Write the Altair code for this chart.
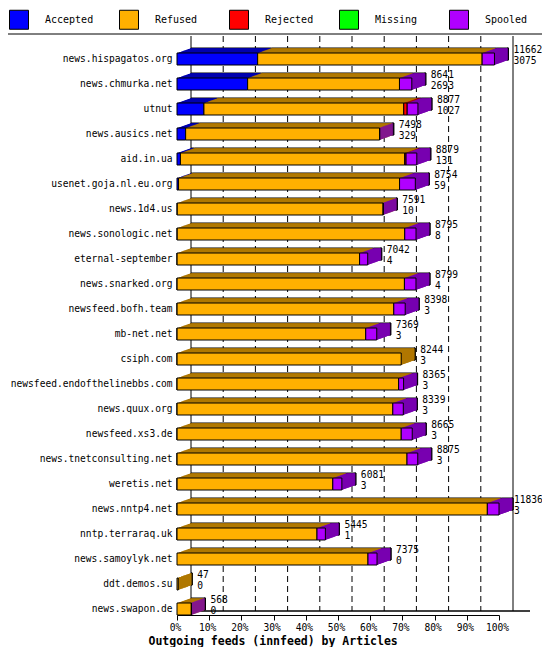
import altair as alt
import pandas as pd

hosts = ["news.hispagatos.org", "news.chmurka.net", "utnut", "news.ausics.net", "aid.in.ua",
         "usenet.goja.nl.eu.org", "news.1d4.us", "news.sonologic.net", "eternal-september",
         "news.snarked.org", "newsfeed.bofh.team", "mb-net.net", "csiph.com",
         "newsfeed.endofthelinebbs.com", "news.quux.org", "newsfeed.xs3.de",
         "news.tnetconsulting.net", "weretis.net", "news.nntp4.net", "nntp.terraraq.uk",
         "news.samoylyk.net", "ddt.demos.su", "news.swapon.de"]
offered = [11662, 8641, 8877, 7498, 8879, 8754, 7591, 8795, 7042, 8799, 8398, 7369, 8244,
           8365, 8339, 8665, 8875, 6081, 11836, 5445, 7375, 47, 568]
accepted = [3075, 2693, 1027, 329, 131, 59, 10, 8, 4, 4, 3, 3, 3, 3, 3, 3, 3, 3, 3, 1, 0, 0, 0]
refused = [8560, 5790, 7620, 7395, 8553, 8428, 7850, 8676, 6958, 8668, 8263, 7193, 8546,
           8447, 8226, 8546, 8767, 5938, 11830, 5337, 7282, 47, 546]
rejected = [0, 0, 130, 0, 50, 0, 0, 0, 0, 0, 0, 0, 0, 0, 0, 0, 0, 0, 0, 0, 0, 0, 0]
missing = [0, 0, 0, 0, 0, 0, 0, 0, 0, 0, 0, 0, 0, 0, 0, 0, 0, 0, 0, 0, 0, 0, 0]
spooled = [470, 470, 410, 5, 410, 600, 5, 430, 310, 440, 435, 420, 0, 190, 400, 420, 410,
           345, 445, 320, 345, 0, 5]

statuses = ["Accepted", "Refused", "Rejected", "Missing", "Spooled"]
front_colors = ["#0000ff", "#ffb000", "#ff0000", "#00ff00", "#b000ff"]
dark_colors = ["#0000b0", "#b07800", "#b00000", "#00b000", "#7800b0"]
x_ticks = [0, 10, 20, 30, 40, 50, 60, 70, 80, 90, 100]
TITLE = "Outgoing feeds (innfeed) by Articles"

FONT = "DejaVu Sans Mono"
W, H = 322, 575
DX, DY, K = 14, 5, 14
CAP = 1.3 / W * 100

series = [accepted, refused, rejected, missing, spooled]
n = len(hosts)
totals = [sum(s[i] for s in series) for i in range(n)]
scale_max = max(totals)

rows = []
lab = []
for i, h in enumerate(hosts):
    start = 0.0
    last = 1
    for j, st in enumerate(statuses):
        v = series[j][i]
        pct = v / scale_max * 100
        if v > 0:
            rows.append(dict(host=h, status=st, x0=start, x1=start + pct,
                             dark=dark_colors[j], kind="seg"))
            last = j
        start += pct
    rows.append(dict(host=h, status=statuses[last], x0=max(0.0, start - CAP), x1=start,
                     dark=dark_colors[last], kind="cap"))
    lab.append(dict(host=h, tot=start, off=str(offered[i]), acc=str(accepted[i])))

df = pd.DataFrame(rows)
labels = pd.DataFrame(lab)
grid = pd.DataFrame({"p": x_ticks[1:-1]})
edges = pd.DataFrame({"p": [x_ticks[0], x_ticks[-1]]})

xscale = alt.Scale(domain=[0, 100], nice=False, zero=True)
x_axis = alt.Axis(values=x_ticks, labelExpr="datum.value + '%'", tickSize=5, tickColor="black",
                  domainColor="black", labelFont=FONT, labelFontSize=9.6, labelColor="black",
                  labelPadding=2, labelOffset=-2, labelOverlap=False, labelFlush=False,
                  labelBound=False, grid=False, offset=-6.5, title=TITLE,
                  titleFont=FONT, titleFontSize=11.5, titleFontWeight="bold", titleColor="black",
                  titleX=-29, titleY=26, titleAlign="left", titleBaseline="middle")
y_enc = alt.Y("host:N", sort=hosts, scale=alt.Scale(paddingInner=0, paddingOuter=0),
              axis=alt.Axis(title=None, domain=False, ticks=False, labelPadding=5,
                            labelFont=FONT, labelFontSize=9.6, labelColor="black",
                            labelLimit=300))

layers = []

# back grid lines
layers.append(alt.Chart(grid).mark_rule(color="black", strokeDash=[6, 4], xOffset=DX).encode(
    x=alt.X("p:Q", scale=xscale, axis=x_axis), y=alt.value(-10.5), y2=alt.value(564.5)))
layers.append(alt.Chart(edges).mark_rule(color="black", xOffset=DX).encode(
    x=alt.X("p:Q", scale=xscale, axis=x_axis), y=alt.value(-10.5), y2=alt.value(564.5)))
layers.append(alt.Chart(edges).mark_rule(color="black").encode(
    x=alt.value(DX), x2=alt.value(353), y=alt.value(564.5)))

# extruded 3D faces
for k in range(K, 0, -1):
    ox = k * DX / K
    oy = -k * DY / K
    props = dict(size=12, xOffset=ox, x2Offset=ox, yOffset=oy)
    if k == K:
        props.update(stroke="black", strokeWidth=1)
    layers.append(alt.Chart(df).mark_bar(**props).encode(
        x=alt.X("x0:Q", scale=xscale, axis=x_axis), x2="x1:Q", y=y_enc,
        color=alt.Color("dark:N", scale=None)))

# front faces
layers.append(alt.Chart(df).transform_filter(alt.datum.kind == "seg").mark_bar(
    size=12, stroke="black", strokeWidth=1).encode(
    x=alt.X("x0:Q", scale=xscale, axis=x_axis), x2="x1:Q", y=y_enc,
    color=alt.Color("status:N", scale=alt.Scale(domain=statuses, range=front_colors),
                    legend=alt.Legend(title=None, orient="none", legendX=-168, legendY=-37,
                                      direction="horizontal", columns=5, gridAlign="all",
                                      columnPadding=23, symbolType="square", symbolSize=361,
                                      symbolStrokeColor="black", symbolStrokeWidth=1,
                                      symbolOpacity=1, labelFont=FONT, labelFontSize=10,
                                      labelColor="black", labelOffset=16, padding=0))))

# number labels (the widest one is pulled in a little so it stays on the page)
for cond, dxv in [(alt.datum.tot <= 99, DX + 5), (alt.datum.tot > 99, DX + 1)]:
    layers.append(alt.Chart(labels).transform_filter(cond).mark_text(
        align="left", baseline="middle", dx=dxv, dy=-9, font=FONT, fontSize=9.6,
        color="black").encode(
        x=alt.X("tot:Q", scale=xscale, axis=x_axis), y=y_enc, text="off:N"))
    layers.append(alt.Chart(labels).transform_filter(cond).mark_text(
        align="left", baseline="middle", dx=dxv, dy=2, font=FONT, fontSize=9.6,
        color="black").encode(
        x=alt.X("tot:Q", scale=xscale, axis=x_axis), y=y_enc, text="acc:N"))

# separator under the legend
one = pd.DataFrame({"a": [0]})
layers.append(alt.Chart(one).mark_rule(color="black").encode(
    x=alt.value(-169), x2=alt.value(365), y=alt.value(-12.5)))

chart = alt.layer(*layers).properties(
    width=W, height=H,
    autosize=alt.AutoSizeParams(type="none"),
    padding={"left": 169, "top": 38.5, "right": 43, "bottom": 25.5},
    background="white",
).configure_view(stroke=None)

chart.save("out.html", embed_options={"renderer": "svg", "actions": False})
